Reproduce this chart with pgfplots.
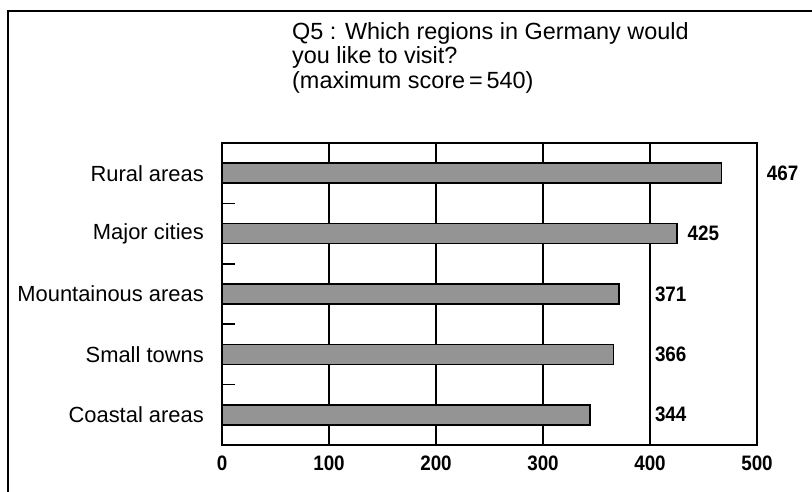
\documentclass[border=0pt]{standalone}
\usepackage{fontspec}
\setmainfont{Liberation Sans}
\newfontfamily\numfont[FakeStretch=0.9]{Liberation Sans}
\usepackage{pgfplots}
\pgfplotsset{compat=1.18}

% Scores per region (maximum score = 540)
\pgfplotstableread{
idx score
0 467
1 425
2 371
3 366
4 344
}\scores

\begin{document}
\begin{tikzpicture}
\useasboundingbox (0,0) rectangle (812bp,492bp);
% frame around the question
\draw[line width=2bp] (8bp,0) -- (8bp,481bp) -- (812bp,481bp);
% title
\begin{scope}[every node/.style={anchor=base west, inner sep=0pt, font=\fontsize{23.5}{26}\selectfont}]
\node at (292bp,452bp) {Q5 : Which regions in Germany would};
\node at (292bp,428bp) {you like to visit?};
\node at (292bp,403bp) {(maximum score{\,}={\,}540)};
\end{scope}

\begin{axis}[
  at={(222bp,47bp)}, anchor=south west,
  scale only axis, width=535bp, height=302bp,
  xmin=0, xmax=500, ymin=-0.5, ymax=4.5,
  y dir=reverse,
  xbar, bar width=20bp,
  axis line style={line width=2bp},
  xtick={0,100,...,500},
  xmajorgrids, grid style={black, line width=1.3bp},
  ytick={0,...,4},
  yticklabels={Rural areas, Major cities, Mountainous areas, Small towns, Coastal areas},
  minor ytick={0.5,1.5,2.5,3.5},
  major tick length=0pt, minor tick length=13bp,
  tick align=inside, ytick pos=left, xtick pos=bottom,
  minor tick style={black, line width=1.5bp},
  /pgf/number format/assume math mode=true,
  xticklabel style={font=\fontsize{21}{24}\selectfont\numfont\bfseries, anchor=north, inner sep=0pt, yshift=-11bp},
  yticklabel style={font=\fontsize{22}{26}\selectfont, anchor=east, inner sep=0pt, xshift=-18bp},
  clip=false,
]
\addplot[draw=black, line width=1.5bp, fill=black!42] table[x=score, y=idx] {\scores};
% score labels
\begin{scope}[every node/.style={anchor=west, inner sep=0pt, font=\fontsize{21}{24}\selectfont\numfont\bfseries}]
\node at (axis cs:509,0) {467};
\node at (axis cs:435,1) {425};
\node at (axis cs:404.5,2) {371};
\node at (axis cs:404.5,3) {366};
\node at (axis cs:404.5,4) {344};
\end{scope}
\end{axis}
\end{tikzpicture}
\end{document}
